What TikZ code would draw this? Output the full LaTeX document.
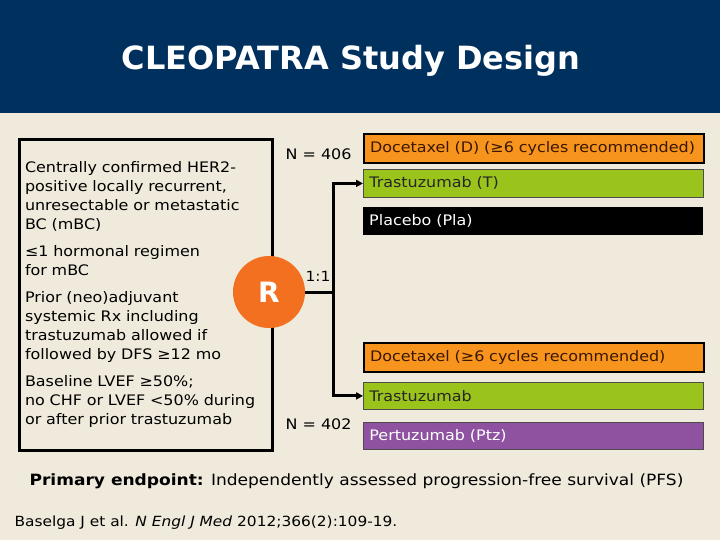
\documentclass[tikz,border=0pt]{standalone}
\usepackage{fontspec}
\setmainfont{DejaVu Sans}[FakeStretch=1.1]
\newfontfamily\titlefont{DejaVu Sans}
\usetikzlibrary{arrows.meta}

\definecolor{slidecream}{HTML}{EFEADB}
\definecolor{headnavy}{HTML}{00305E}
\definecolor{randorange}{HTML}{F37021}
\definecolor{docorange}{HTML}{F7941E}
\definecolor{trastgreen}{HTML}{9AC31C}
\definecolor{ptzpurple}{HTML}{8E52A1}
\definecolor{doctext}{HTML}{3A1600}

\begin{document}
\begin{tikzpicture}[x=1pt, y=-1pt,
  armbox/.style={anchor=north west, minimum width=340pt, text width=328pt,
    inner xsep=6pt, inner ysep=0pt, align=left,
    font=\fontsize{14.5}{17}\selectfont},
  link/.style={line width=3pt}]
% Set the slide background
\fill[slidecream] (0,0) rectangle (720,540);
\useasboundingbox (0,0) rectangle (720,540);
\fill[headnavy] (0,0) rectangle (720,113);
\node[anchor=base, text=white, font=\titlefont\bfseries\fontsize{32}{36}\selectfont] (title) at (351,70) {CLEOPATRA Study Design};

% Inclusion criteria
\node[draw, line width=3pt, anchor=north west, minimum width=253pt, minimum height=311pt,
  text width=242pt, inner xsep=5pt, align=left, font=\fontsize{14.5}{19}\selectfont] (criteria) at (18,138)
  {Centrally confirmed HER2-\\ positive locally recurrent,\\ unresectable or metastatic\\ BC (mBC)\\[8pt]
   ≤1 hormonal regimen\\ for mBC\\[8pt]
   Prior (neo)adjuvant\\ systemic Rx including\\ trastuzumab allowed if\\ followed by DFS ≥12 mo\\[8pt]
   Baseline LVEF ≥50\%;\\ no CHF or LVEF <50\% during\\ or after prior trastuzumab};

% Randomisation
\node[circle, fill=randorange, minimum size=72pt, text=white, font=\titlefont\bfseries\fontsize{28}{30}\selectfont] (rand) at (269,292) {R};
\node[anchor=base west, font=\fontsize{14}{17}\selectfont] (ratio) at (302,281) {1:1};

% Control arm
\node[armbox, fill=docorange, draw=black, line width=2pt, minimum height=29pt, text=doctext] (docA) at (363,133) {Docetaxel (D) (≥6 cycles recommended)};
\node[armbox, fill=trastgreen, draw=black!70, line width=0.8pt, minimum height=28pt, text=black!85] (trastA) at (363,169) {Trastuzumab (T)};
\node[armbox, fill=black, minimum height=28pt, text=white] (plaA) at (363,207) {Placebo (Pla)};
\node[anchor=base east, font=\fontsize{14.5}{17}\selectfont] (nA) at (355,160) {N = 406};

% Pertuzumab arm
\node[armbox, fill=docorange, draw=black, line width=2pt, minimum height=29pt, text=doctext] (docB) at (363,342) {Docetaxel (≥6 cycles recommended)};
\node[armbox, fill=trastgreen, draw=black!70, line width=0.8pt, minimum height=27pt, text=black!85] (trastB) at (363,382) {Trastuzumab};
\node[armbox, fill=ptzpurple, draw=black!70, line width=0.8pt, minimum height=27pt, text=white] (ptzB) at (363,422) {Pertuzumab (Ptz)};
\node[anchor=base east, font=\fontsize{14.5}{17}\selectfont] (nB) at (355,429) {N = 402};

% Connectors
\coordinate (fork) at (333,292);
\draw[link] (rand.east) -- (fork);
\draw[link, -{Triangle[length=7pt, width=7pt]}] (fork) |- (trastA.west);
\draw[link, -{Triangle[length=7pt, width=7pt]}] (fork) |- (trastB.west);

% Endpoint and reference
\node[anchor=base west, font=\fontsize{15.5}{19}\selectfont] (endpoint) at (26,485)
  {\textbf{Primary endpoint:} Independently assessed progression-free survival (PFS)};
\node[anchor=base west, font=\fontsize{14}{17}\selectfont] (cite) at (11,526)
  {Baselga J et al. \textit{N Engl J Med} 2012;366(2):109-19.};
\end{tikzpicture}
\end{document}
